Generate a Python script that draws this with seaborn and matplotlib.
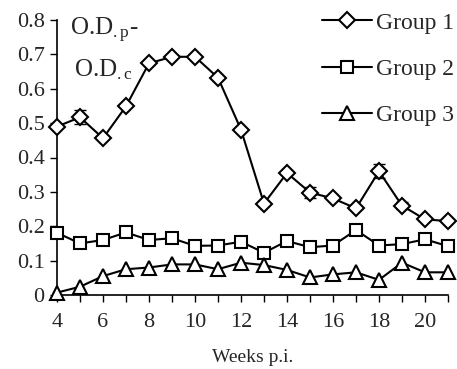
import numpy as np
import pandas as pd
import matplotlib
matplotlib.use("Agg")
import matplotlib.pyplot as plt
import seaborn as sns
from matplotlib.lines import Line2D

weeks = list(range(4, 22))
group1 = [0.49, 0.517, 0.456, 0.549, 0.674, 0.693, 0.693, 0.632, 0.481, 0.266,
          0.355, 0.298, 0.281, 0.252, 0.36, 0.26, 0.22, 0.215]
group1_err = [0, 0.02, 0, 0, 0, 0, 0, 0, 0, 0, 0, 0.015, 0, 0, 0.02, 0.01, 0, 0]
group2 = [0.181, 0.15, 0.16, 0.182, 0.16, 0.165, 0.143, 0.144, 0.155, 0.123,
          0.157, 0.139, 0.144, 0.189, 0.144, 0.148, 0.162, 0.142]
group3 = [0.007, 0.024, 0.055, 0.075, 0.08, 0.089, 0.089, 0.075, 0.094, 0.087,
          0.073, 0.051, 0.06, 0.066, 0.044, 0.094, 0.066, 0.066]
group_names = ["Group 1", "Group 2", "Group 3"]
marker_map = {"Group 1": "D", "Group 2": "s", "Group 3": "^"}
marker_sizes = {"Group 1": 8, "Group 2": 9, "Group 3": 10.5}
y_ticks = [0, 0.1, 0.2, 0.3, 0.4, 0.5, 0.6, 0.7, 0.8]
y_labels = ["0", "0.1", "0.2", "0.3", "0.4", "0.5", "0.6", "0.7", "0.8"]
x_ticks = [4, 6, 8, 10, 12, 14, 16, 18, 20]

df = pd.DataFrame({
    "week": weeks * 3,
    "value": group1 + group2 + group3,
    "group": [g for g in group_names for _ in weeks],
})

sns.set_style("white")
plt.rcParams["font.family"] = ["Liberation Serif", "DejaVu Serif"]
plt.rcParams["mathtext.fontset"] = "custom"
plt.rcParams["mathtext.rm"] = "Liberation Serif"
plt.rcParams["mathtext.it"] = "Liberation Serif"

fig = plt.figure(figsize=(4.57, 3.69), dpi=100)
ax = fig.add_axes([57 / 457, 1 - 295 / 369, (448 - 57) / 457, (295 - 20) / 369])

ax.errorbar(weeks, group1, yerr=group1_err, fmt="none", ecolor="black",
            elinewidth=1.0, capsize=4, capthick=1.0, zorder=1)

for g in group_names:
    sub = df[df["group"] == g]
    sns.lineplot(data=sub, x="week", y="value", ax=ax, color="black",
                 marker=marker_map[g], markersize=marker_sizes[g],
                 markerfacecolor="white", markeredgecolor="black",
                 markeredgewidth=1.5, linewidth=1.5, legend=False, zorder=3,
                 clip_on=False)

ax.set_xlim(4, 21)
ax.set_ylim(0, 0.8)
ax.set_yticks(y_ticks)
ax.set_yticklabels(y_labels)
ax.set_xticks(x_ticks)
ax.set_xticks(weeks, minor=True)
ax.set_xticklabels([str(x) for x in x_ticks])
ax.tick_params(axis="both", which="both", direction="out", length=5, width=1,
               color="black", labelsize=16, bottom=True, left=True)
ax.tick_params(axis="x", pad=8)
ax.tick_params(axis="y", pad=4)
for s in ["top", "right"]:
    ax.spines[s].set_visible(False)
for s in ["left", "bottom"]:
    ax.spines[s].set_color("black")
    ax.spines[s].set_linewidth(1.2)

ax.set_xlabel("Weeks p.i.", fontsize=14, labelpad=12)
ax.set_ylabel("")

fig.text(70 / 457, 1 - 30 / 369, r"O.D$_{\mathrm{.p}}$-", fontsize=18,
         va="center", ha="left")
fig.text(74 / 457, 1 - 70 / 369, r"O.D$_{\mathrm{.c}}$", fontsize=18,
         va="center", ha="left")

handles = [Line2D([0], [0], color="black", linewidth=1.5, marker=marker_map[g],
                  markersize=marker_sizes[g], markerfacecolor="white",
                  markeredgecolor="black", markeredgewidth=1.5)
           for g in group_names]
fig.legend(handles, group_names, loc="upper left",
           bbox_to_anchor=(322 / 457, 1 - 12 / 369), frameon=False,
           fontsize=17, handlelength=2.1, handletextpad=0.2,
           labelspacing=1.05, borderpad=0, borderaxespad=0)

fig.savefig("out.png", dpi=100)
